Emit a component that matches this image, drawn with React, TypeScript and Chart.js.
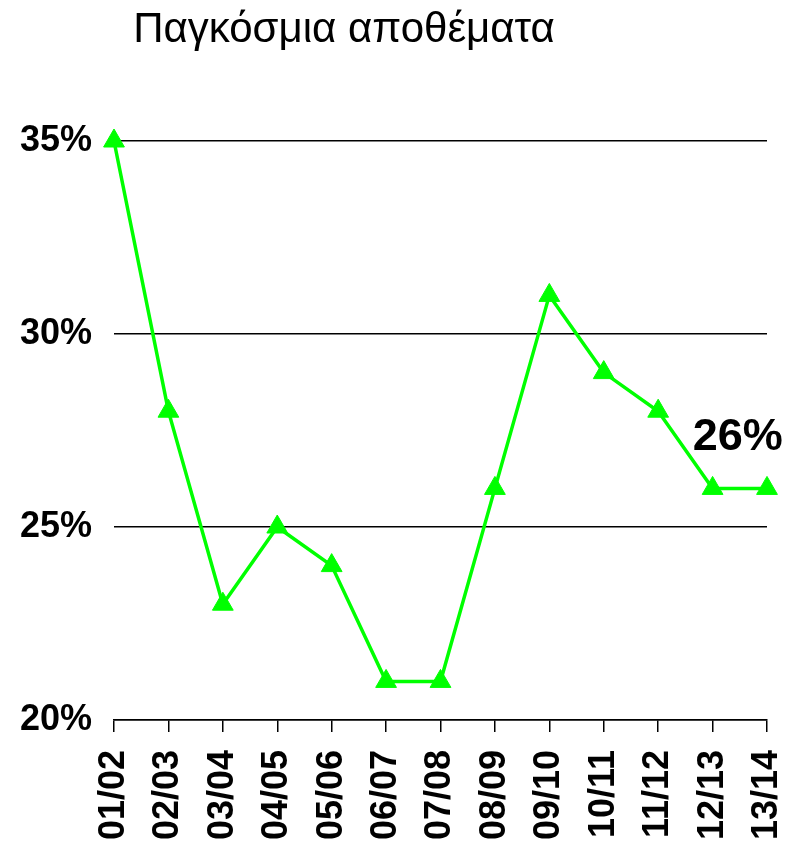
import React, { useEffect, useRef } from "react";
import { Chart, registerables } from "chart.js";

Chart.register(...registerables);

const TITLE = "Παγκόσμια αποθέματα";
const CATEGORIES = ["01/02", "02/03", "03/04", "04/05", "05/06", "06/07", "07/08", "08/09", "09/10", "10/11", "11/12", "12/13", "13/14"];
const STOCKS = [35, 28, 23, 25, 24, 21, 21, 26, 31, 29, 28, 26, 26];
const Y_MIN = 20;
const Y_MAX = 35;
const Y_STEP = 5;
const LAST_LABEL = "26%";

const overlayPlugin = {
  id: "overlay",
  afterDraw(chart: any) {
    const ctx = chart.ctx;
    const xs = chart.scales.x;
    const ys = chart.scales.y;
    ctx.save();
    ctx.fillStyle = "#000";
    ctx.textAlign = "center";
    ctx.textBaseline = "alphabetic";
    ctx.font = "42px 'Liberation Sans', Arial, sans-serif";
    ctx.fillText(TITLE, 344, 42);
    ctx.font = "bold 45px 'Liberation Sans', Arial, sans-serif";
    const n = STOCKS.length;
    const px = (xs.getPixelForValue(n - 2) + xs.getPixelForValue(n - 1)) / 2 - 2;
    const py = ys.getPixelForValue(STOCKS[n - 1] + 1.0);
    ctx.fillText(LAST_LABEL, px, py);
    ctx.restore();
  },
};

export default function App() {
  const ref = useRef<HTMLCanvasElement>(null);
  useEffect(() => {
    document.body.style.margin = "0";
    document.body.style.overflow = "hidden";
    const chart = new Chart(ref.current!, {
      type: "line",
      data: {
        labels: CATEGORIES,
        datasets: [
          {
            data: STOCKS,
            borderColor: "#00FF00",
            backgroundColor: "#00FF00",
            borderWidth: 3.5,
            pointStyle: "triangle",
            pointRadius: 12,
            pointBorderWidth: 1,
            tension: 0,
            clip: false,
          },
        ],
      },
      options: {
        animation: false,
        responsive: true,
        maintainAspectRatio: false,
        layout: { padding: { top: 141, right: 0, left: 0, bottom: 0 } },
        plugins: { legend: { display: false }, title: { display: false }, tooltip: { enabled: false } },
        scales: {
          x: {
            offset: false,
            afterFit(scale: any) {
              scale.height = 126;
              scale.paddingRight = 27;
              scale.paddingLeft = 0;
            },
            grid: { drawOnChartArea: false, drawTicks: true, tickLength: 12, color: "#000", lineWidth: 1.5 },
            border: { display: true, color: "#000", width: 1.5 },
            ticks: {
              minRotation: 90,
              maxRotation: 90,
              autoSkip: false,
              padding: 18,
              color: "#000",
              font: { family: "'Liberation Sans', Arial, sans-serif", size: 36, weight: "bold" },
            },
          },
          y: {
            min: Y_MIN,
            max: Y_MAX,
            afterFit(scale: any) {
              scale.width = 114;
            },
            grid: { drawTicks: false, color: "#000", lineWidth: 1.5 },
            border: { display: false },
            ticks: {
              stepSize: Y_STEP,
              padding: 22,
              color: "#000",
              font: { family: "'Liberation Sans', Arial, sans-serif", size: 36, weight: "bold" },
              callback: (v: any) => v + "%",
            },
          },
        },
      },
      plugins: [overlayPlugin],
    });
    return () => chart.destroy();
  }, []);
  return (
    <div style={{ width: 794, height: 846, position: "relative" }}>
      <canvas ref={ref} />
    </div>
  );
}
